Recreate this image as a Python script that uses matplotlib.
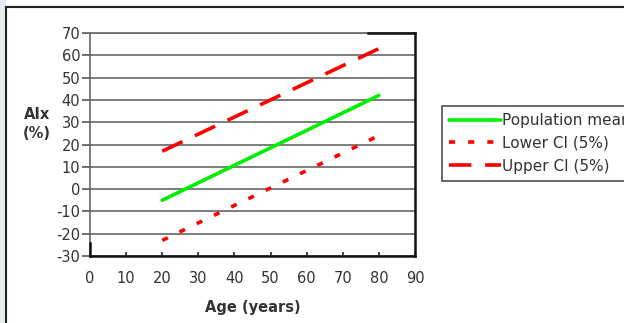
import matplotlib.pyplot as plt
from matplotlib.patches import Rectangle

plt.rcParams['font.family'] = ['DejaVu Sans']
plt.rcParams['axes.unicode_minus'] = False

# AIx against age: regression line and 5% confidence limits
age = [20, 80]
pop_mean = [-5, 42]
lower_ci = [-23, 24]
upper_ci = [17, 63]

x_ticks = list(range(0, 91, 10))
y_ticks = list(range(-30, 71, 10))

fig = plt.figure(figsize=(6.24, 3.23), dpi=100)
fig.patch.set_facecolor('white')

# light strip on the far left and the outer chart frame
fig.add_artist(Rectangle((0, 0), 6 / 624, 1, transform=fig.transFigure,
                         facecolor='#e6ecef', edgecolor='none'))
fig.add_artist(Rectangle((6 / 624, -0.05), 1.1, 1 - 7 / 323 + 0.05,
                         transform=fig.transFigure, facecolor='none',
                         edgecolor='#222222', linewidth=1.5))

ax = fig.add_axes([90 / 624, 1 - 256 / 323, 325 / 624, 223 / 323])
ax.set_xlim(0, 90)
ax.set_ylim(-30, 70)
ax.set_xticks(x_ticks)
ax.set_yticks(y_ticks)
ax.tick_params(axis='y', direction='out', length=6, width=1.2,
               color='#555555', labelsize=10.5, labelcolor='#333333', pad=1)
ax.tick_params(axis='x', direction='in', length=3, width=1.2,
               color='#222222', labelsize=10.5, labelcolor='#333333', pad=11)
ax.yaxis.grid(True, color='#666666', linewidth=1.2)
ax.set_axisbelow(True)

for side in ('left', 'top'):
    ax.spines[side].set_color('#666666')
    ax.spines[side].set_linewidth(1.2)
for side in ('right', 'bottom'):
    ax.spines[side].set_color('#111111')
    ax.spines[side].set_linewidth(1.8)

# short dark pieces on the top-right and bottom-left edges
ax.plot([77, 90], [70, 70], color='#111111', linewidth=1.8,
        clip_on=False, zorder=3)
ax.plot([0, 0], [-30, -24], color='#111111', linewidth=1.8,
        clip_on=False, zorder=3)

ax.plot(age, pop_mean, color='#00ee00', linewidth=2.6,
        solid_capstyle='round', label='Population mean')
ax.plot(age, lower_ci, color='#ff0000', linewidth=2.6,
        dashes=(1.7, 3.6), label='Lower CI (5%)')
ax.plot(age, upper_ci, color='#ff0000', linewidth=2.6,
        dashes=(6.2, 3.8), label='Upper CI (5%)')

ax.set_xlabel('Age (years)', fontsize=10.5, fontweight='bold',
              color='#333333', labelpad=10)
fig.text(37 / 624, 1 - 124 / 323, 'AIx\n(%)', fontsize=10.5,
         fontweight='bold', color='#333333', ha='center', va='center',
         linespacing=1.3)

leg = ax.legend(loc='upper left',
                bbox_to_anchor=((442 - 90) / 325, 1 - (106 - 33) / 223),
                frameon=True, fancybox=False, fontsize=11,
                handlelength=3.4, handletextpad=0.1, borderpad=0.45,
                labelspacing=0.52, borderaxespad=0)
leg.get_frame().set_edgecolor('#222222')
leg.get_frame().set_linewidth(1.2)
for t in leg.get_texts():
    t.set_color('#333333')

fig.savefig('out.png', dpi=100)
